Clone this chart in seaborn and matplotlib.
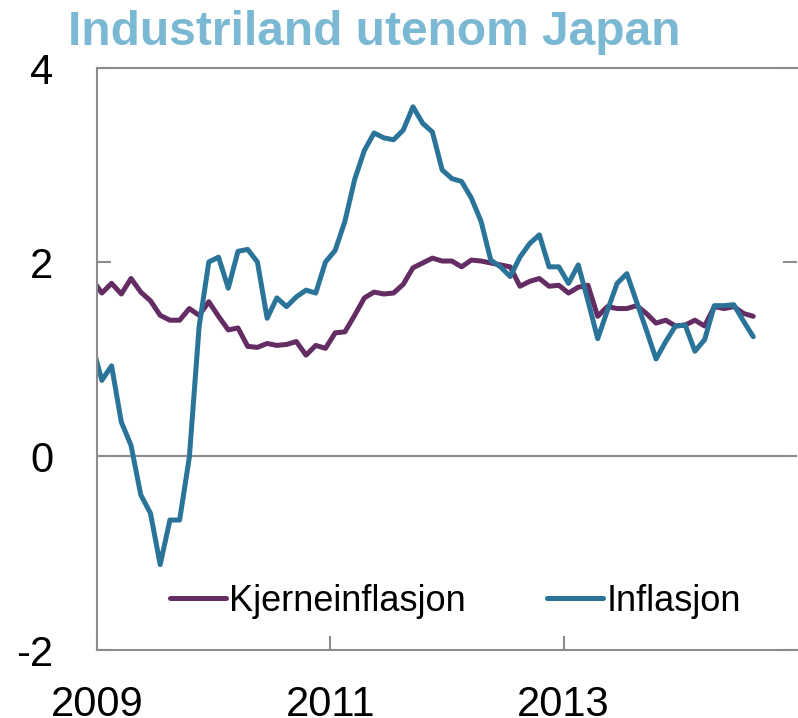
import numpy as np
import pandas as pd
import seaborn as sns
import matplotlib.pyplot as plt

# månedlige verdier, des 2008 - aug 2014
maaneder = pd.period_range("2008-12", "2014-08", freq="M")

kjerne = [1.82,
          1.68, 1.78, 1.67, 1.83, 1.69, 1.60, 1.45, 1.40, 1.40, 1.52, 1.45, 1.59,
          1.44, 1.30, 1.32, 1.13, 1.12, 1.16, 1.14, 1.15, 1.18, 1.04, 1.14, 1.11,
          1.27, 1.28, 1.45, 1.63, 1.69, 1.67, 1.68, 1.77, 1.94, 1.99, 2.04, 2.01,
          2.01, 1.95, 2.02, 2.01, 1.99, 1.97, 1.95, 1.75, 1.80, 1.83, 1.75, 1.76,
          1.68, 1.74, 1.76, 1.44, 1.54, 1.52, 1.52, 1.55, 1.47, 1.37, 1.40, 1.34,
          1.35, 1.40, 1.34, 1.54, 1.52, 1.54, 1.47, 1.44]

inflasjon = [1.15,
             0.78, 0.93, 0.35, 0.11, -0.40, -0.59, -1.12, -0.66, -0.66, -0.01, 1.33, 2.00,
             2.05, 1.73, 2.11, 2.13, 2.00, 1.42, 1.63, 1.54, 1.64, 1.71, 1.68, 2.00,
             2.12, 2.42, 2.85, 3.15, 3.33, 3.28, 3.26, 3.36, 3.60, 3.43, 3.34, 2.95,
             2.86, 2.83, 2.66, 2.42, 2.02, 1.95, 1.85, 2.05, 2.19, 2.28, 1.95, 1.95,
             1.78, 1.97, 1.60, 1.21, 1.50, 1.78, 1.88, 1.59, 1.30, 1.00, 1.18, 1.34,
             1.35, 1.08, 1.20, 1.55, 1.55, 1.56, 1.39, 1.23]

serier = ["Kjerneinflasjon", "Inflasjon"]
farger = ["#632c63", "#2a7499"]
yticks = [-2, 0, 2, 4]
xticks = [2009, 2011, 2013]

# midt i måneden som desimalår
aar = np.array([p.year + (p.month - 0.5) / 12 for p in maaneder])

df = pd.DataFrame({
    "aar": np.concatenate([aar, aar]),
    "verdi": kjerne + inflasjon,
    "serie": [serier[0]] * len(kjerne) + [serier[1]] * len(inflasjon),
})

sns.set_style("white")
plt.rcParams["font.family"] = ["Liberation Sans", "DejaVu Sans"]
plt.rcParams["axes.unicode_minus"] = False
plt.rcParams["text.color"] = "black"

fig = plt.figure(figsize=(7.98, 7.18), dpi=100)
ax = fig.add_axes([97 / 798, 1 - 650 / 718, 700 / 798, 582 / 718])

sns.lineplot(data=df, x="aar", y="verdi", hue="serie", hue_order=serier,
             palette=farger, linewidth=3.6, ax=ax)

ax.axhline(0, color="#8c8c8c", linewidth=1.5, zorder=1)
ax.set_xlim(2009, 2015)
ax.set_ylim(-2, 4)
ax.set_xticks(xticks)
ax.set_xticklabels([str(x) for x in xticks])
ax.set_yticks(yticks)
ax.set_xlabel("")
ax.set_ylabel("")

for side in ["left", "bottom", "top"]:
    ax.spines[side].set_color("#8c8c8c")
    ax.spines[side].set_linewidth(1.5)
ax.spines["right"].set_visible(False)

ax.tick_params(axis="y", direction="in", length=10, width=1.5, color="#8c8c8c",
               labelcolor="black", labelsize=30, pad=31.5, right=True, left=True)
ax.tick_params(axis="x", direction="in", length=10, width=1.5, color="#8c8c8c",
               labelcolor="black", labelsize=30, pad=25, bottom=True)

leg = ax.legend(loc="center left", bbox_to_anchor=(0.104, 0.084), ncol=2, frameon=False,
                fontsize=26, handlelength=1.55, handletextpad=0.1, columnspacing=2.25,
                borderpad=0, borderaxespad=0)
for t in leg.get_texts():
    t.set_color("black")

fig.text(68 / 798, 1 - 45 / 718, "Industriland utenom Japan", fontsize=34.5,
         fontweight="bold", color="#7bb8d3", va="baseline", ha="left")

fig.savefig("out.png", dpi=100)
